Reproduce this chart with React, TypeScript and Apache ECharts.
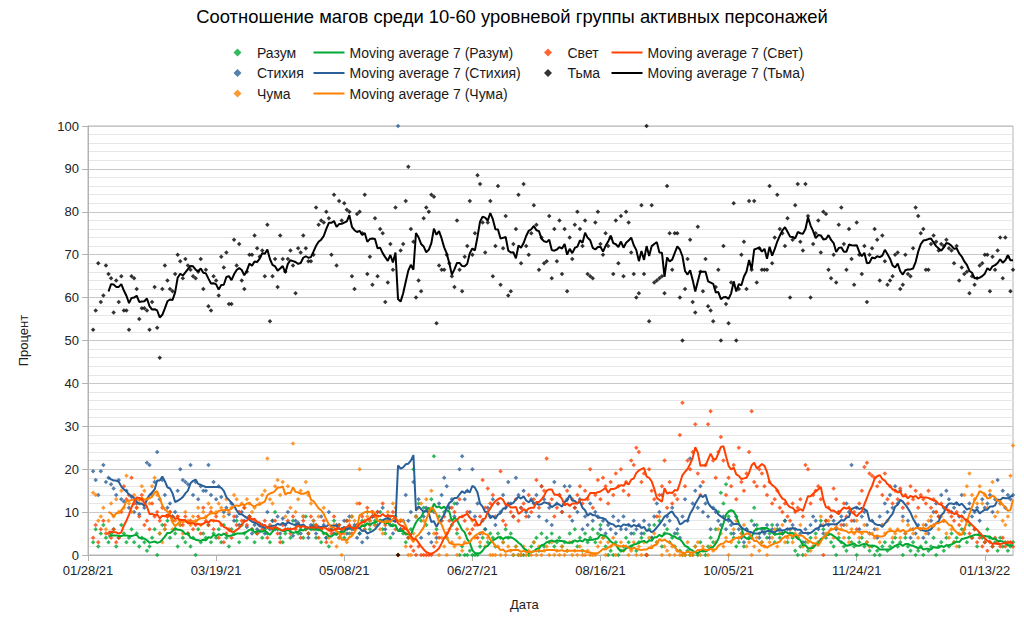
import { useEffect, useRef } from 'react';
import * as echarts from 'echarts';

type EChartsOption = echarts.EChartsOption;
type Val = number | null;

// day 0 = 01/28/21, one value per day (percent of the class in the group)
const START_DAY = Date.UTC(2021, 0, 28);
const DAY_COUNT = 362;

const razum: Val[] = [
  null, null, 3, 6, 2, 5, 7, 4, 3, 5,
  6, 2, 4, 7, 5, 3, 4, 6, 3, 5,
  2, 4, 3, 1, 2, 4, 6, 0, 5, 7,
  6, 8, 4, 9, 5, 2, 7, 4, 3, 5,
  2, 4, 0, 6, 3, 5, 4, 7, 3, 5,
  4, 6, 3, 7, 4, 2, 6, 5, 8, 3,
  7, 5, 4, 9, 6, 3, 5, 7, 4, 6,
  5, 3, 8, 10, 6, 4, 3, 5, 6, 4,
  8, 7, 5, 6, 4, 9, 5, 6, 7, 4,
  6, 3, 5, 4, 2, 6, 8, 5, 7, 6,
  4, 8, 5, 9, 6, 7, 5, 8, 7, 10,
  6, 9, 8, 7, 10, 6, 5, 8, 4, 7,
  9, 0, 6, 5, 3, 4, 6, 20, 9, 12,
  8, 11, 7, 10, 13, 23, 6, 9, 8, 10,
  4, 11, 7, 12, 5, 0, 2, 0, 0, 1,
  0, 0, 0, 2, 4, 6, 3, 5, 4, 2,
  5, 4, 3, 6, 4, 5, 0, 2, 0, 0,
  0, 1, 0, 2, 3, 4, 1, 5, 2, 4,
  3, 5, 2, 3, 4, 2, 3, 1, 5, 3,
  6, 2, 4, 1, 5, 3, 4, 6, 3, 5,
  7, 4, 2, 0, 1, 0, 3, 0, 1, 2,
  4, 3, 2, 5, 1, 3, 4, 5, 0, 6,
  4, 7, 3, 8, 2, 5, 6, 3, 4, 2,
  5, 1, 0, 0, 1, 0, 0, 2, 0, 3,
  1, 0, 2, 4, 3, 6, 10, 14.5, 12, 16.5,
  9, 5, 4, 2, 3, 5, 2, 6, 4, 8,
  11, 7, 5, 3, 6, 4, 5, 7, 3, 6,
  4, 5, 8, 3, 6, 4, 1, 0, 2, 0,
  3, 1, 4, 2, 5, 3, 8, 6, 4, 5,
  3, 2, 0, 4, 3, 2, 1, 4, 3, 2,
  0, 3, 4, 2, 3, 1, 2, 0, 1, 0,
  2, 3, 1, 2, 3, 4, 2, 3, 0, 4,
  2, 1, 3, 0, 1, 2, 0, 3, 1, 2,
  4, 0, 2, 3, 1, 4, 2, 5, 3, 4,
  2, 6, 5, 3, 7, 4, 6, 2, 5, 4,
  3, 6, 4, 2, 3, 1, 4, 2, 3, 1,
  2, 3,
];

const stihiya: Val[] = [
  null, null, 19.5, 17.5, 14, 19.5, 21, 17, 18, 16.5,
  15.5, 14, 17.5, 13, 12.5, 15, 11, 13.5, 10, 12,
  9.5, 13, 11, 21.5, 21, 14, 17, 24, 13, 17.5,
  14, 11, 12, 9, 10, 15, 20, 17.5, 17, 16.5,
  21, 14, 17, 13, 16, 15, 15, 21, 14, 17,
  13, 16, 13.5, 10, 11, 9.5, 12, 8, 9, 7,
  10, 8, 6.5, 9, 5, 7, 6, 5.5, 7, 5,
  10, 6, 8, 6, 9, 5, 8.5, 7, 10, 6,
  4.5, 8, 7.5, 5, 9, 6, 4, 7, 8, 5,
  6.5, 9, 7, 4, 10, 6, 5, 7, 4, 6,
  8, 5, 9, 6, 7, 4, 5, 3, 6, 4,
  8, 9, 7, 10, 8, 11, 6, 9, 7, 5,
  8, 100, 6, 8, 14, 8, 10, 17, 9, 13,
  4, 9, 11, 5, 3, 10, 4, 12, 14, 18,
  16, 11, 13, 9, 12, 20, 23, 13, 15, 10,
  20, 9, 12, 5, 8, 6, 11, 9, 13, 7,
  12, 10, 14, 11, 17, 12, 9, 18, 14, 11,
  15, 10, 9, 13, 12, 14, 9, 16, 13, 8,
  11, 7, 17, 12, 14, 10, 16, 13, 16, 8,
  11, 10, 13, 6, 9, 7, 12, 8, 10, 9,
  6, 8, 5, 7, 6, 9, 5, 8, 6, 9,
  6, 7, 5, 8, 6, 7, 5, 8, 0, 7,
  4, 9, 12, 10, 14, 7, 9, 8, 11, 5,
  6, 4, 9, 13, 8, 22.5, 12, 15, 11, 16,
  10, 12, 9, 6, 11, 10, 8, 7, 9, 6,
  8, 7, 5, 9, 6, 4, 3, 6, 5, 4,
  7, 6, 4, 6, 5, 7, 4, 6, 5, 7,
  6, 5, 8, 6, 5, 7, 6, 4, 5, 3,
  6, 5, 7, 9, 8, 6, 7, 5, 8, 7,
  9, 8, 6, 10, 9, 7, 12, 10, 21, 8,
  11, 6, 9, 10, 7, 5, 8, 6, 4, 9,
  7, 12, 10, 14, 11, 16, 12, 15, 9, 5,
  8, 4, 6, 5, 7, 6, 4, 7, 5, 8,
  10, 12, 9, 14, 11, 15, 13, 10, 11, 12,
  9, 14, 10, 8, 12, 9, 10, 11, 8, 13,
  11, 12, 14, 10, 13, 17.5, 12, 15, 11, 14,
  13, 14,
];

const chuma: Val[] = [
  null, null, 14.5, 14, 8, 9, 11, 6, 8, 12,
  9, 13, 10, 15, 11, 18.5, 12, 10, 14, 11,
  12, 16, 15, 13, 12, 16, 18, 14, 5, 3,
  6, 9, 10, 6, 8, 9, 7, 5, 10, 8,
  7, 9, 8, 11, 7, 10, 9, 12, 11, 8,
  10, 12, 11, 9, 13, 10, 11, 14, 13, 10,
  12, 11, 13, 12, 10, 11, 13, 12, 14, 15,
  22.5, 13, 12, 16, 17.5, 14, 17, 9, 16, 11,
  26, 10, 13, 15, 9, 17, 14, 12, 8, 7,
  9, 6, 11, 5, 4, 3, 7, 2, 4, 0,
  5, 3, 8, 9, 8, 12, 20, 7, 6, 9,
  8, 10, 7, 9, 6, 5, 8, 10, 9, 12,
  11, 0, 8, 6, 2, 0, 0, 5, 9, 11,
  12, 8, 13, 10, 15, 5, 3, 0, 4, 2,
  0, 6, 3, 2, 0, 4, 1, 3, 6, 5,
  8, 4, 7, 3, 5, 2, 4, 0, 0, 0,
  2, 0, 3, 0, 2, 1, 0, 2, 0, 0,
  2, 0, 1, 0, 3, 0, 2, 0, 1, 2,
  0, 3, 0, 1, 0, 2, 0, 1, 3, 0,
  1, 0, 2, 0, 0, 1, 0, 0, 0, 2,
  3, 4, 0, 3, 2, 4, 0, 2, 3, 1,
  2, 0, 1, 3, 0, 2, 0, 3, 0, 4,
  2, 5, 3, 9, 0, 2, 1, 0, 2, 0,
  1, 0, 0, 0, 3, 0, 0, 2, 3, 0,
  2, 1, 0, 2, 1, 3, 6, 5, 2, 4,
  0, 3, 6, 8, 4, 5, 7, 2, 3, 0,
  2, 4, 1, 3, 2, 0, 3, 4, 6, 2,
  5, 7, 3, 4, 6, 3, 5, 4, 7, 2,
  0, 3, 1, 2, 4, 3, 9, 7, 5, 8,
  6, 4, 7, 5, 6, 4, 7, 3, 6, 5,
  8, 4, 5, 7, 3, 2, 5, 4, 6, 3,
  7, 5, 8, 6, 4, 5, 6, 4, 8, 5,
  7, 6, 5, 9, 4, 6, 7, 5, 8, 9,
  7, 10, 6, 9, 8, 5, 4, 6, 3, 2,
  5, 8, 14, 16, 19, 14, 13, 12, 16, 12,
  14, 11, 15, 17, 9, 10, 12, 8, 7, 9,
  18.5, 25.5,
];

const svet: Val[] = [
  null, null, 4, 7, 3, 6, 8, 5, 5, 4,
  6, 3, 4, 10, 16, 13, 14, 18, 12, 11,
  9, 14, 7, 8, 6, 12, 9, 10, 8, 11,
  7, 9, 10, 8, 6, 9, 8, 7, 9, 5,
  8, 6, 7, 9, 5, 11, 8, 7, 10, 6,
  9, 4, 7, 3, 5, 6, 4, 9, 7, 10,
  8, 11, 7, 9, 6, 8, 5, 7, 6, 8,
  4, 7, 6, 8, 5, 3, 7, 6, 8, 5,
  9, 6, 7, 4, 8, 6, 5, 9, 6, 7,
  4, 6, 8, 3, 6, 5, 9, 6, 7, 5,
  6, 8, 7, 5, 6, 7, 12, 9, 8, 11,
  7, 10, 9, 10, 8, 12, 7, 9, 8, 10,
  6, 0, 8, 6, 5, 4, 2, 1, 0, 2,
  0, 0, 0, 0, 0, 2, 5, 4, 8, 9,
  5, 8, 11, 10, 6, 13, 9, 8, 10, 5,
  6, 7, 4, 9, 17.5, 11, 15.5, 12, 14, 9,
  12, 19.5, 8, 7, 12, 10, 9, 13, 8, 11,
  12, 9, 14, 10, 13, 17.5, 11, 16, 15, 22.5,
  12, 13, 9, 11, 14, 10, 12, 15, 9, 13,
  11, 14, 16, 12, 15, 13, 20, 11, 14, 17.5,
  13, 18, 16, 12, 17, 14, 19, 16, 20, 15,
  17, 14, 22, 21, 25, 24, 17, 19, 0, 20,
  15, 13, 9, 14, 16, 22, 11, 17, 12, 14,
  13, 28, 35.5, 16, 22, 20, 24, 30.5, 19, 14,
  17, 21, 30.5, 33.5, 22, 18, 24, 27.5, 22, 14,
  18, 16, 21, 13, 25, 17, 15, 19, 24, 33.5,
  17, 16, 20, 19, 16, 14, 17, 12, 13, 15,
  11, 10, 12, 9, 8, 12, 10, 11, 13, 9,
  21, 20, 12, 14, 15, 16, 13, 0, 8, 11,
  9, 15.5, 13, 10, 7, 12, 9, 11, 8, 10,
  6, 12, 15, 20.5, 21.5, 19, 18.5, 18, 16, 17,
  14, 19, 13, 16, 12, 15, 13, 15.5, 11, 14,
  12, 16, 13, 15, 11, 14, 13, 12, 15, 11,
  13, 10, 9, 12, 8, 11, 10, 9, 8, 10,
  7, 9, 6, 8, 5, 4, 6, 3, 4, 2,
  3, 1, 3, 2, 4, 3, 2, 4, 2, 3,
  3, 2,
];

const tma: Val[] = [
  null, null, 52.5, 57, 68, 59, 60.5, 67.5, 65.5, 64.5,
  56.5, 64, 59, 65, 57, 57, 52.5, 65, 64.5, 62,
  55, 57.5, 57.5, 57, 52.5, 59, 62.5, 53, 46, 62,
  67.5, 64, 62, 61.5, 65.5, 70, 68.5, 64.5, 69, 67.5,
  66.5, 65, 64.5, 66, 69, 62, 66.5, 58, 57, 65,
  64, 60.5, 69.5, 67, 70.5, 58.5, 58.5, 73.5, 67.5, 72.5,
  64, 62, 66, 70, 70, 74.5, 71.5, 69.5, 71, 65,
  77, 54.5, 65, 69, 62.5, 74.5, 69, 66, 69, 71,
  67.5, 61, 71.5, 70.5, 74.5, 71.5, 68.5, 68.5, 70, 81,
  77, 78, 77.5, 80, 78.5, 70, 84, 67.5, 82.5, 78,
  82, 80.5, 80, 65, 62, 79.5, 80, 75, 84, 65.5,
  69.5, 63, 78.5, 65, 76, 75, 59, 63.5, 72.5, 66.5,
  81, 0, 71, 72.5, 82.5, 90.5, 76, 73, 60, 64,
  61.5, 78.5, 81, 80, 84, 83.5, 54, 67.5, 66.5, 66.5,
  70, 68, 65, 62.5, 78, 66.5, 61.5, 69.5, 72, 82.5,
  70, 75, 88.5, 86.5, 77.5, 70.5, 77.5, 82.5, 65, 72,
  86, 63, 71.5, 79, 60.5, 61.5, 72.5, 76, 84, 68,
  86.5, 72, 70, 75, 81.5, 77, 66.5, 74, 68, 68.5,
  79, 64.5, 76, 68.5, 78, 65.5, 76, 61.5, 74, 69,
  77, 80, 76, 72, 78, 65.5, 65, 64.5, 77.5, 80,
  72.5, 70, 75, 72, 74, 65.5, 78, 68, 79, 65,
  80, 77.5, 70.5, 65.5, 60, 61, 81.5, 65.5, 100, 54.5,
  81.5, 63.5, 64, 64.5, 65, 61, 86, 75, 66.5, 75,
  75, 60, 50, 62, 69, 73.5, 59, 56.5, 76.5, 66,
  61.5, 69, 58, 57, 54.5, 62.5, 66.5, 50, 72, 58.5,
  54, 63.5, 82, 50, 62, 70, 73, 62, 82.5, 66.5,
  82.5, 63.5, 71.5, 66.5, 66.5, 66.5, 86, 68, 74, 84,
  76, 75, 72, 78.5, 60, 73.5, 81.5, 86.5, 73, 71,
  86.5, 79, 60, 72.5, 75, 78, 70.5, 80, 79.5, 66.5,
  64.5, 70, 63.5, 77, 81, 72.5, 66.5, 76, 69, 63,
  77.5, 70, 65.5, 72, 59, 70, 71.5, 76, 73.5, 64,
  74.5, 68.5, 63, 64, 65, 70, 70.5, 62, 63, 70,
  65.5, 65, 71.5, 81, 79, 75, 76, 66.5, 66.5, 72.5,
  74.5, 73, 71, 72.5, 72, 73.5, 71.5, 71, 68, 72,
  64, 67, 65.5, 66, 61, 65, 63, 64.5, 67.5, 68,
  70, 70, 61.5, 69.5, 66.5, 71, 74, 64.5, 74, 69.5,
  61.5, 66.5,
];

const classNames = ['Разум', 'Стихия', 'Чума', 'Свет', 'Тьма'];
const classValues = [razum, stihiya, chuma, svet, tma];
const classColors = ['#00a933', '#2a6099', '#ff8000', '#ff4000', '#000000'];

const pad = (n: number) => String(n).padStart(2, '0');
const dates = Array.from({ length: DAY_COUNT }, (_, i) => {
  const d = new Date(START_DAY + i * 86400000);
  return `${pad(d.getUTCMonth() + 1)}/${pad(d.getUTCDate())}/${pad(d.getUTCFullYear() % 100)}`;
});

// trailing 7-day moving average, like the spreadsheet trend line
const movingAverage = (values: Val[], n = 7): Val[] =>
  values.map((_, i) => {
    if (i < n - 1) return null;
    const win = values.slice(i - n + 1, i + 1);
    if (win.some((v) => v == null)) return null;
    return +(win.reduce((s: number, v) => s + (v as number), 0) / n).toFixed(2);
  });

const maName = (name: string) => `Moving average 7 (${name})`;
const FONT = 'Liberation Sans, Arial, sans-serif';

const App = () => {
  const chartRef = useRef<HTMLDivElement>(null);

  useEffect(() => {
    if (!chartRef.current) return;
    const myChart = echarts.init(chartRef.current, undefined, { renderer: 'svg' });

    const legendText = { fontSize: 14, lineHeight: 20.5, color: '#1a1a1a', fontFamily: FONT };
    const pointLegend = {
      orient: 'vertical' as const,
      top: 42.25,
      padding: 0,
      itemGap: 0,
      icon: 'diamond',
      itemWidth: 8,
      itemHeight: 8,
      textStyle: { ...legendText, padding: [0, 0, 0, 10.5] },
    };
    const lineLegend = {
      orient: 'vertical' as const,
      top: 42.25,
      padding: 0,
      itemGap: 0,
      icon: 'rect',
      itemWidth: 31,
      itemHeight: 2,
      textStyle: legendText,
    };

    const scatterSeries = classNames.map((name, k) => ({
      name,
      type: 'scatter' as const,
      data: classValues[k],
      symbol: 'diamond',
      symbolSize: 4.5,
      itemStyle: { color: classColors[k] },
      z: 2,
    }));
    const lineSeries = classNames.map((name, k) => ({
      name: maName(name),
      type: 'line' as const,
      data: movingAverage(classValues[k]),
      symbol: 'none',
      showSymbol: false,
      lineStyle: { color: classColors[k], width: 2 },
      itemStyle: { color: classColors[k] },
      z: 3,
    }));

    const option: EChartsOption = {
      animation: false,
      backgroundColor: '#ffffff',
      textStyle: { fontFamily: FONT },
      title: {
        text: 'Соотношение магов среди 10-60 уровневой группы активных персонажей',
        left: 'center',
        top: 7,
        padding: 0,
        textStyle: { fontSize: 18.4, fontWeight: 'normal', color: '#000', fontFamily: FONT },
      },
      legend: [
        { ...pointLegend, left: 233.5, data: ['Разум', 'Стихия', 'Чума'] },
        { ...lineLegend, left: 313.5, data: [maName('Разум'), maName('Стихия'), maName('Чума')] },
        { ...pointLegend, left: 544, data: ['Свет', 'Тьма'] },
        { ...lineLegend, left: 611.5, data: [maName('Свет'), maName('Тьма')] },
      ],
      grid: {
        left: 88,
        right: 11,
        top: 126,
        bottom: 63,
        show: true,
        borderColor: '#b3b3b3',
        borderWidth: 1,
      },
      xAxis: {
        type: 'category',
        data: dates,
        boundaryGap: false,
        axisLine: { lineStyle: { color: '#b3b3b3' } },
        axisTick: { show: true, interval: 49, length: 6, lineStyle: { color: '#b3b3b3' } },
        axisLabel: { interval: 49, fontSize: 13, color: '#222', margin: 9 },
        splitLine: { show: false },
      },
      yAxis: {
        type: 'value',
        min: 0,
        max: 100,
        interval: 10,
        name: 'Процент',
        nameLocation: 'middle',
        nameGap: 58,
        nameTextStyle: { fontSize: 13, color: '#222' },
        axisLine: { show: true, lineStyle: { color: '#b3b3b3' } },
        axisTick: { show: true, length: 6, lineStyle: { color: '#b3b3b3' } },
        axisLabel: { fontSize: 13, color: '#222', margin: 9 },
        splitLine: { lineStyle: { color: '#c8c8c8' } },
        minorTick: { show: false, splitNumber: 5 },
        minorSplitLine: { show: true, lineStyle: { color: '#e6e6e6' } },
      },
      graphic: [
        {
          type: 'text',
          left: 510,
          top: 598,
          style: { text: 'Дата', fontSize: 13, fill: '#222', fontFamily: FONT },
        },
      ],
      series: [...scatterSeries, ...lineSeries],
    };

    myChart.setOption(option);

    return () => {
      myChart.dispose();
    };
  }, []);

  return (
    <div
      ref={chartRef}
      style={{ position: 'fixed', left: 0, top: 0, width: '1024px', height: '618px' }}
    />
  );
};

export default App;
